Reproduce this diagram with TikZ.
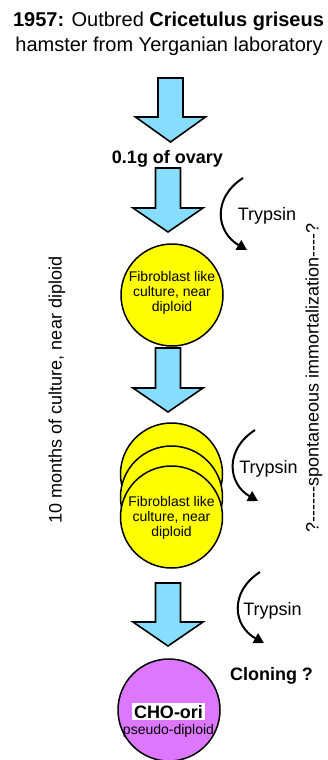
\documentclass[tikz,border=0pt]{standalone}
\usepackage{fontspec}
\setmainfont{Liberation Sans}
\usetikzlibrary{arrows.meta}
\definecolor{arrowblue}{RGB}{135,221,255}
\definecolor{cellyellow}{RGB}{255,255,0}
\definecolor{choviolet}{RGB}{221,119,255}
\newcommand{\bigarrowat}[4]{% cx, top, headstart, tip
  \draw[bigarrow] (#1-12.5,#2) -- (#1+12.5,#2) -- (#1+12.5,#3) -- (#1+35,#3) -- (#1,#4) -- (#1-35,#3) -- (#1-12.5,#3) -- cycle;}
\begin{document}
\begin{tikzpicture}[x=1pt,y=-1pt,
  bigarrow/.style={draw=black, line width=1.6pt, fill=arrowblue, line join=miter},
  cell/.style={circle, draw=black, line width=1.5pt, fill=cellyellow, minimum size=102pt, inner sep=0pt},
  celltext/.style={align=center, inner sep=0pt, font=\fontsize{14}{15}\selectfont},
  chocell/.style={circle, draw=black, line width=1.5pt, fill=choviolet, minimum size=102pt, inner sep=0pt},
  trypsinarrow/.style={line width=2pt, -{Triangle[length=10pt,width=11pt]}},
  lbl/.style={font=\fontsize{18}{20}\selectfont, inner sep=0pt},
  boldlbl/.style={font=\fontsize{18}{20}\selectfont\bfseries, inner sep=0pt}]
\useasboundingbox (0,0) rectangle (327,760);

% title
\node[font=\fontsize{20}{24}\selectfont, inner sep=0pt, anchor=base] (title1) at (168.5,27)
  {\textbf{1957:} Outbred \textbf{Cricetulus griseus}};
\node[font=\fontsize{20}{24}\selectfont, inner sep=0pt, anchor=base] (title2) at (169,52)
  {hamster from Yerganian laboratory};

% big arrows
\bigarrowat{170.5}{78}{117}{142}
\node[boldlbl, anchor=base] (ovary) at (167.5,163) {0.1g of ovary};
\bigarrowat{168}{168}{208}{232}

\node[cell] (c1) at (172,295) {};
\node[celltext] (c1t) at (172,293) {Fibroblast like\\culture, near\\diploid};

\bigarrowat{168}{348}{388}{412}

\node[cell] (s1) at (171.5,474) {};
\node[cell] (s2) at (171.5,497) {};
\node[cell] (s3) at (171.5,517) {};
\node[celltext] (s3t) at (171.5,518) {Fibroblast like\\culture, near\\diploid};

\bigarrowat{168}{583}{622}{646}

\node[chocell] (cho) at (169,710) {};
\node[fill=white, inner xsep=2.5pt, inner ysep=1.5pt, font=\fontsize{18}{20}\selectfont\bfseries, anchor=base] (choname) at (168.5,718) {CHO-ori};
\node[font=\fontsize{14}{16}\selectfont, inner sep=0pt, anchor=base] (chosub) at (168.5,734) {pseudo-diploid};

% trypsin arrows
\coordinate (t1s) at (243,178);
\coordinate (t1e) at (247,250);
\draw[trypsinarrow] (t1s) .. controls (212,198) and (216,232) .. (t1e);
\node[lbl, anchor=base] (tr1) at (267,220) {Trypsin};

\coordinate (t2s) at (255,430);
\coordinate (t2e) at (258,501);
\draw[trypsinarrow] (t2s) .. controls (224,450) and (228,484) .. (t2e);
\node[lbl, anchor=base] (tr2) at (268.5,473) {Trypsin};

\coordinate (t3s) at (260,572);
\coordinate (t3e) at (264,643);
\draw[trypsinarrow] (t3s) .. controls (229,592) and (233,626) .. (t3e);
\node[lbl, anchor=base] (tr3) at (272.5,615) {Trypsin};

\node[boldlbl, anchor=base] (clon) at (271.5,680) {Cloning ?};

% side texts
\node[lbl, rotate=90] (months) at (57,390) {10 months of culture, near diploid};
\node[lbl, rotate=90] (immo) at (314,378) {?{-}{-}{-}{-}{-}{-}spontaneous immortalization{-}{-}{-}{-}?};
\end{tikzpicture}
\end{document}
